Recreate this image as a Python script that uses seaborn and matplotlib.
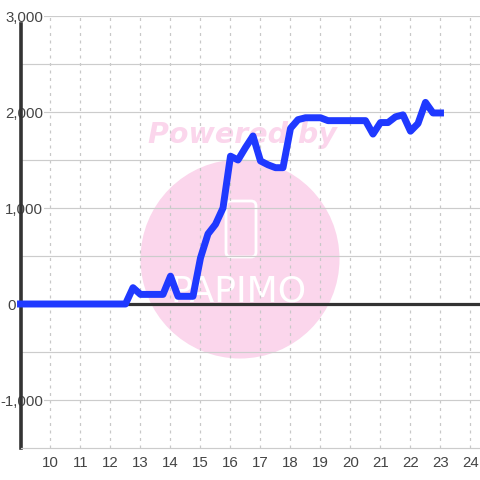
import numpy as np
import pandas as pd
import matplotlib
matplotlib.use("Agg")
import matplotlib.pyplot as plt
from matplotlib.patches import Circle, FancyBboxPatch
import seaborn as sns

hours = [9 + i * 0.25 for i in range(57)]
values = [0] * 15 + [
    170, 100, 100, 100, 100, 290, 80, 80, 80, 480, 730, 830, 1000,
    1540, 1500, 1630, 1750, 1490, 1450, 1420, 1420, 1830, 1920, 1940, 1940, 1940,
    1910, 1910, 1910, 1910, 1910, 1910, 1770, 1890, 1890, 1950, 1970, 1800, 1880,
    2100, 1990, 1990,
]
x_ticks = list(range(10, 25))
y_major = [-1000, 0, 1000, 2000, 3000]
y_labels = ["-1,000", "0", "1,000", "2,000", "3,000"]
y_minor = [-500, 500, 1500, 2500]
df = pd.DataFrame({"hour": hours, "value": values})

sns.set_theme(style="white")
plt.rcParams["font.family"] = ["Liberation Sans", "DejaVu Sans"]

PX = 1 / 480
fig = plt.figure(figsize=(4.8, 4.8), dpi=100, facecolor="white")
ax = fig.add_axes([20.5 * PX, 32 * PX, 459.5 * PX, 432 * PX])
ax.set_facecolor("white")
ax.set_xlim(9, 24.317)
ax.set_ylim(-1500, 3000)

pink = "#fbd6ec"
fig_tr = fig.transFigure
ax.add_patch(Circle((240 * PX, 1 - 259 * PX), 99.5 * PX, transform=fig_tr,
                    facecolor=pink, edgecolor="none", zorder=0))
ax.text(242 * PX, 1 - 135 * PX, "Powered by", transform=fig_tr, ha="center", va="center",
        color=pink, fontsize=20.5, fontweight="bold", fontstyle="italic",
        family="DejaVu Sans", zorder=0)
ax.add_patch(FancyBboxPatch((226 * PX, 1 - 257 * PX), 30 * PX, 56 * PX,
                            boxstyle=f"round,pad=0,rounding_size={5 * PX}", transform=fig_tr,
                            facecolor="none", edgecolor="white", linewidth=2.0, zorder=0.5))
ax.text(239 * PX, 1 - 291 * PX, "PAPIMO", transform=fig_tr, ha="center", va="center",
        color="white", fontsize=26, family="DejaVu Sans", zorder=0.5)

ax.set_xticks(x_ticks)
ax.set_yticks(y_major)
ax.set_yticklabels(y_labels)
ax.set_yticks(y_minor, minor=True)
ax.grid(True, axis="x", which="major", color="#c8c8c8", linestyle=(0, (2.4, 3.6)), linewidth=0.9, zorder=1)
ax.grid(True, axis="y", which="both", color="#cccccc", linestyle="-", linewidth=0.85, zorder=1)
ax.set_axisbelow(True)

ax.axhline(0, color="#333333", linewidth=2.3, zorder=2)
sns.lineplot(data=df, x="hour", y="value", ax=ax, color="#1f39ff", linewidth=5,
             errorbar=None, estimator=None, zorder=3, solid_capstyle="projecting",
             solid_joinstyle="round", clip_on=False)
ax.set_xlabel("")
ax.set_ylabel("")

for side in ("top", "right"):
    ax.spines[side].set_visible(False)
ax.spines["bottom"].set_color("#cccccc")
ax.spines["bottom"].set_linewidth(0.85)
ax.spines["left"].set_color("#333333")
ax.spines["left"].set_linewidth(2.6)
ax.spines["left"].set_bounds(-1500, 2917)

ax.tick_params(axis="both", which="both", length=0)
ax.tick_params(axis="x", labelsize=10.8, labelcolor="#444444", pad=6)
ax.tick_params(axis="y", labelsize=10.8, labelcolor="#444444", pad=-16.2)
for tick, lab in zip(ax.yaxis.get_major_ticks(), y_labels):
    if lab == "0":
        tick.set_pad(3.2)
    tick.label1.set_bbox(dict(facecolor="white", edgecolor="none", pad=0.8))
for tick in ax.xaxis.get_major_ticks():
    tick.label1.set_x(tick.get_loc())

fig.savefig("out.png", dpi=100, facecolor="white")
